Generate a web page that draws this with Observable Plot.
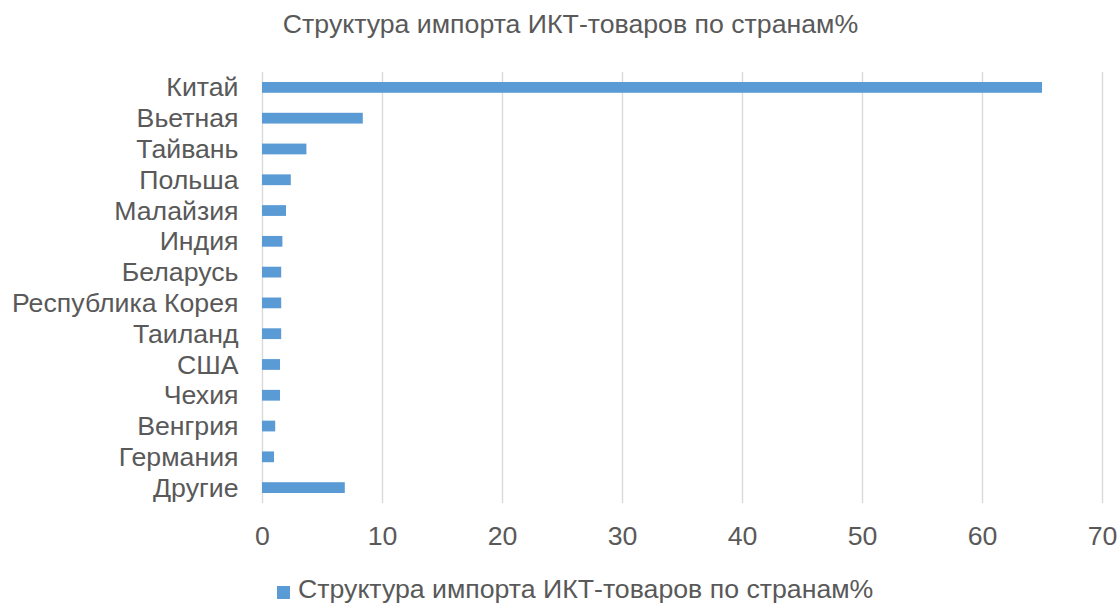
<!DOCTYPE html>
<html>
<head>
<meta charset="utf-8">
<script src="https://cdn.jsdelivr.net/npm/d3@7"></script>
<script src="https://cdn.jsdelivr.net/npm/@observablehq/plot@0.6"></script>
<style>
  html, body { margin: 0; padding: 0; background: #fff; }
  #wrap { position: relative; width: 1120px; height: 603px; overflow: hidden; font-family: "Liberation Sans", Arial, sans-serif; color: #595959; }
  #title { position: absolute; left: 0; top: 9px; width: 1141px; text-align: center; font-size: 26.7px; line-height: 30px; white-space: nowrap; }
  #chart { position: absolute; left: 0; top: 55px; }
  #legend { position: absolute; left: 277px; top: 574px; font-size: 26.7px; line-height: 30px; white-space: nowrap; }
  #legend .sw { display: inline-block; width: 13px; height: 13px; background: #5b9bd5; margin-right: 8px; vertical-align: -1px; }
</style>
</head>
<body>
<div id="wrap">
  <div id="title"></div>
  <div id="chart"></div>
  <div id="legend"><span class="sw"></span><span id="legendText"></span></div>
</div>
<script>
const titleText = "Структура импорта ИКТ-товаров по странам%";
const countries = ["Китай","Вьетная","Тайвань","Польша","Малайзия","Индия","Беларусь","Республика Корея","Таиланд","США","Чехия","Венгрия","Германия","Другие"];
const values = [65.0, 8.4, 3.7, 2.4, 2.0, 1.7, 1.6, 1.6, 1.6, 1.5, 1.5, 1.1, 1.0, 6.9];
const xTicks = [0, 10, 20, 30, 40, 50, 60, 70];

document.getElementById("title").textContent = titleText;
document.getElementById("legendText").textContent = titleText;

const data = countries.map((c, i) => ({country: c, value: values[i]}));

const chart = Plot.plot({
  width: 1120,
  height: 500,
  marginLeft: 262,
  marginRight: 18,
  marginTop: 17,
  marginBottom: 52,
  style: {fontFamily: "'Liberation Sans', Arial, sans-serif", fontSize: "26.7px", color: "#595959", background: "transparent"},
  x: {domain: [0, 70], ticks: xTicks},
  y: {domain: countries, paddingInner: 0.65, paddingOuter: 0.325, round: false},
  marks: [
    Plot.ruleX(xTicks, {stroke: "#d9d9d9", strokeWidth: 1.4}),
    Plot.barX(data, {x: "value", y: "country", fill: "#5b9bd5"}),
    Plot.axisX({ticks: xTicks, tickSize: 0, tickPadding: 23, label: null, fontSize: 26.7}),
    Plot.axisY({tickSize: 0, tickPadding: 24, label: null, fontSize: 26.7})
  ]
});
document.getElementById("chart").appendChild(chart);
</script>
</body>
</html>
